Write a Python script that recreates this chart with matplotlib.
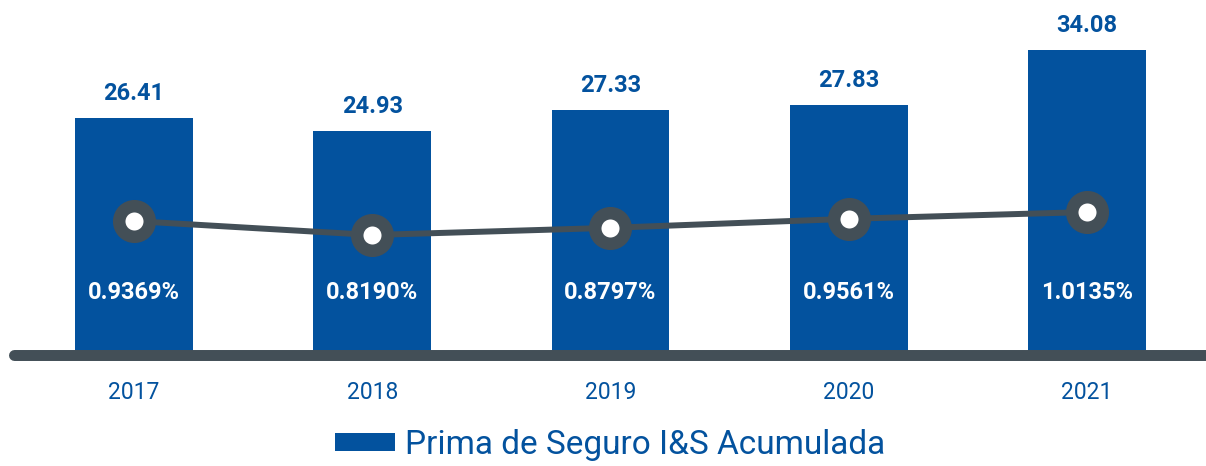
import matplotlib as mpl
import matplotlib.pyplot as plt

mpl.rcParams["font.family"] = ["Roboto", "DejaVu Sans"]

# Data
years = ["2017", "2018", "2019", "2020", "2021"]
prima = [26.41, 24.93, 27.33, 27.83, 34.08]
ratio = [0.9369, 0.8190, 0.8797, 0.9561, 1.0135]
ratio_labels = ["0.9369%", "0.8190%", "0.8797%", "0.9561%", "1.0135%"]
legend_label = "Prima de Seguro I&S Acumulada"

BLUE = "#03529e"
DARK = "#434f57"


def main():
    fig = plt.figure(figsize=(12.06, 4.66), dpi=100)
    ax = fig.add_axes([0, 0, 1, 1])
    x = list(range(len(years)))

    bars = ax.bar(x, prima, width=0.495, color=BLUE, zorder=2,
                  label=legend_label)
    ax.set_xlim(-0.5624, 4.4995)
    ax.set_ylim(-12.85, 39.68)
    ax.axis("off")

    # value labels above bars
    for xi, v in zip(x, prima):
        ax.annotate(f"{v:.2f}", (xi, v), xytext=(0, 13),
                    textcoords="offset points", ha="center", va="baseline",
                    fontsize=17, fontweight="bold", color=BLUE)

    # percentage labels inside bars
    for xi, lab in zip(x, ratio_labels):
        ax.text(xi, 6.76, lab, ha="center", va="center", fontsize=17,
                fontweight="bold", color="white", zorder=5)

    # year labels
    for xi, yr in zip(x, years):
        ax.text(xi, -4.51, yr, ha="center", va="center", fontsize=16.5,
                color=BLUE)

    # base line
    ax.plot([-0.504, 5], [-0.34, -0.34], color=DARK, lw=7.9,
            solid_capstyle="round", zorder=3)

    # ratio line on a secondary axis
    ax2 = ax.twinx()
    ax2.set_ylim(-1.1386, 2.8105)
    ax2.axis("off")
    ax2.plot(x, ratio, color=DARK, lw=4.3, marker="o", markersize=22,
             markerfacecolor="white", markeredgecolor=DARK,
             markeredgewidth=9, zorder=4)

    fig.legend(handles=[bars], labels=[legend_label], loc="center",
               bbox_to_anchor=(0.506, 0.045), frameon=False, fontsize=24,
               handlelength=1.8, handleheight=0.48, handletextpad=0.3,
               labelcolor=BLUE)

    fig.savefig("out.png", dpi=100)


if __name__ == "__main__":
    main()
